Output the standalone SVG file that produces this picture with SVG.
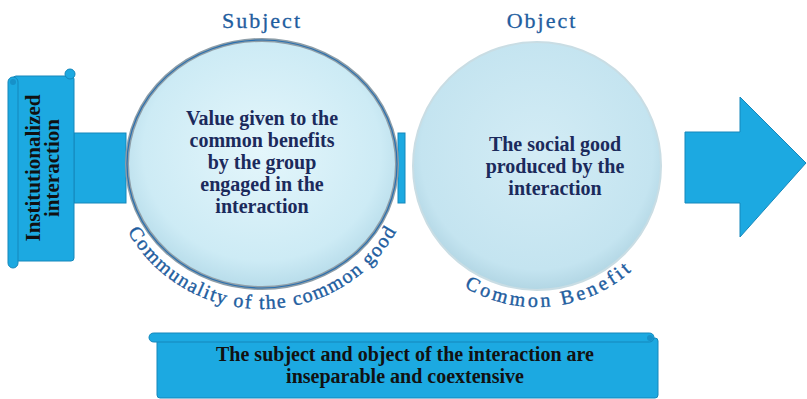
<svg xmlns="http://www.w3.org/2000/svg" width="807" height="399" viewBox="0 0 807 399">
<style>
.blue{fill:#1ca9e1;stroke:#1487bb;stroke-width:1}
text{font-family:'Liberation Serif','Times New Roman',serif}
.ctext{font-weight:bold;font-size:20px;fill:#1b2a5c;text-anchor:middle}
.arc{font-size:20px;fill:#1f5e9f;stroke:#1f5e9f;stroke-width:0.4}
.title{font-size:22px;fill:#1f5e9f;stroke:#1f5e9f;stroke-width:0.3;letter-spacing:2px;text-anchor:middle}
.btext{font-weight:bold;font-size:20px;fill:#111;text-anchor:middle}
</style>
<defs>
<radialGradient id="g1" cx="50%" cy="45%" r="55%">
<stop offset="0" stop-color="#e4f6fb"/><stop offset="0.8" stop-color="#cdebf5"/><stop offset="1" stop-color="#b7dcea"/>
</radialGradient>
<radialGradient id="g2" cx="50%" cy="45%" r="55%">
<stop offset="0" stop-color="#d3ecf5"/><stop offset="0.85" stop-color="#c4e4f0"/><stop offset="1" stop-color="#b2d6e4"/>
</radialGradient>
<path id="arc1" d="M110,163 A152,146 0 0 0 414,163"/>
<path id="arc2" d="M395,165 A142,142 0 0 0 679,165"/>
</defs>
<g id="connectors">
<rect class="blue" x="74" y="133" width="52" height="70"/>
<rect class="blue" x="398" y="133" width="7" height="70"/>
<path id="arrow-right" class="blue" d="M685,132 H740 V97 L806,163 L740,237 V203 H685 Z"/>
</g>
<g id="left-scroll">
<rect class="blue" x="13" y="76" width="61" height="185" rx="3"/>
<circle class="blue" cx="70" cy="74" r="5"/>
<rect class="blue" x="8" y="77" width="10" height="191" rx="5"/>
<circle cx="13" cy="82" r="3" fill="#1791c9"/>
<text class="btext" style="font-size:21px" transform="translate(40,168) rotate(-90)" x="0" y="0">Institutionalized</text>
<text class="btext" style="font-size:21px" transform="translate(59,168) rotate(-90)" x="0" y="0">interaction</text>
</g>
<g id="subject">
<ellipse cx="262" cy="164" rx="135" ry="124" fill="url(#g1)" stroke="#8e9ea8" stroke-width="4"/>
<ellipse cx="262" cy="164" rx="135" ry="124" fill="none" stroke="#2a6fae" stroke-width="1.2"/>
<text class="title" x="262" y="28">Subject</text>
<text class="ctext" x="262" y="125">Value given to the</text>
<text class="ctext" x="262" y="147">common benefits</text>
<text class="ctext" x="262" y="169">by the group</text>
<text class="ctext" x="262" y="191">engaged in the</text>
<text class="ctext" x="262" y="213">interaction</text>
<text class="arc"><textPath href="#arc1" startOffset="50%" text-anchor="middle" textLength="325" lengthAdjust="spacing">Communality of the common good</textPath></text>
</g>
<g id="object">
<ellipse cx="537" cy="166" rx="124" ry="124" fill="url(#g2)" stroke="#c9dde4" stroke-width="2"/>
<text class="title" x="542" y="28">Object</text>
<text class="ctext" x="555" y="151">The social good</text>
<text class="ctext" x="555" y="173">produced by the</text>
<text class="ctext" x="555" y="195">interaction</text>
<text class="arc"><textPath href="#arc2" startOffset="53%" text-anchor="middle" textLength="180" lengthAdjust="spacing">Common  Benefit</textPath></text>
</g>
<g id="bottom-scroll">
<rect class="blue" x="157" y="338" width="501" height="60" rx="3"/>
<rect class="blue" x="149" y="333" width="505" height="9" rx="4.5"/>
<circle cx="650" cy="338" r="3" fill="#1791c9"/>
<text class="btext" x="405" y="361">The subject and object of the interaction are</text>
<text class="btext" x="405" y="383">inseparable and coextensive</text>
</g>
</svg>
